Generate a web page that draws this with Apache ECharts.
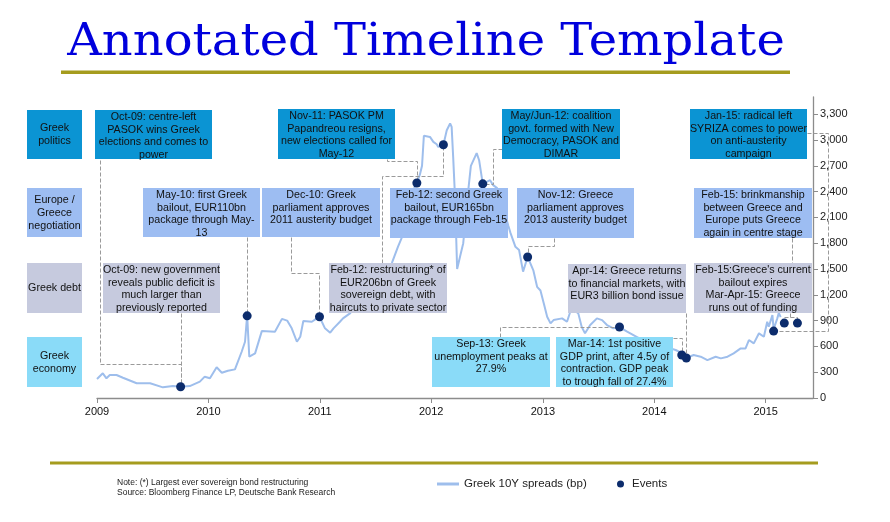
<!DOCTYPE html>
<html><head><meta charset="utf-8">
<script src="https://cdn.jsdelivr.net/npm/echarts@6/dist/echarts.min.js"></script>
<style>html,body{margin:0;padding:0;background:#fff}#c{width:890px;height:522px}</style>
</head><body><div id="c"></div>
<script>
// ---------- DATA ----------
const spreadDates = ['2009-01-01','2009-01-20','2009-02-01','2009-02-12','2009-03-06','2009-03-27','2009-05-11','2009-06-24','2009-08-05','2009-09-07','2009-10-02','2009-11-01','2009-12-04','2009-12-20',
'2010-01-06','2010-01-28','2010-02-14','2010-03-06','2010-03-29','2010-04-20','2010-05-01','2010-05-08','2010-05-15','2010-06-03','2010-06-25','2010-08-07','2010-08-30','2010-09-16','2010-10-01','2010-10-18','2010-10-29','2010-11-08','2010-12-06','2010-12-22','2010-12-31',
'2011-01-18','2011-02-04','2011-02-15','2011-03-08','2011-03-18','2011-04-11','2011-05-10','2011-06-15','2011-07-25','2011-08-25','2011-09-14','2011-09-26','2011-10-15','2011-11-01','2011-11-09','2011-11-15','2011-11-25','2011-12-02','2011-12-08','2011-12-28',
'2012-01-08','2012-01-19','2012-01-24','2012-02-10','2012-02-21','2012-03-03','2012-03-08','2012-03-13','2012-03-19','2012-03-26','2012-04-05','2012-04-15','2012-05-01','2012-05-10','2012-05-29','2012-06-06','2012-06-18','2012-06-24','2012-07-12','2012-07-22','2012-08-04','2012-08-25','2012-09-10','2012-09-17','2012-10-03','2012-10-15','2012-10-28','2012-11-12','2012-12-01','2012-12-13','2012-12-24',
'2013-01-04','2013-01-15','2013-01-26','2013-02-05','2013-03-05','2013-03-21','2013-04-05','2013-04-27','2013-05-08','2013-05-19','2013-06-05','2013-06-27','2013-07-14','2013-07-30','2013-08-20','2013-09-09','2013-10-04','2013-11-10','2013-12-15',
'2014-01-20','2014-02-20','2014-03-12','2014-03-23','2014-04-01','2014-04-16','2014-05-10','2014-06-02','2014-06-24','2014-07-21','2014-08-07','2014-08-29','2014-09-18','2014-10-11','2014-10-27','2014-11-07','2014-11-23','2014-12-10','2014-12-26',
'2015-01-06','2015-01-11','2015-01-23','2015-01-27','2015-02-08','2015-02-13','2015-02-19'];
const spreadValues = [221,287,229,267,267,236,171,171,124,139,131,139,190,248,
229,357,294,317,333,538,654,964,480,519,778,770,920,900,810,654,712,895,887,926,945,
810,759,810,887,926,987,1250,1500,1300,1569,1758,1860,2150,2350,2475,2500,2600,2700,3050,3036,
2978,2950,2920,2945,3114,3192,3153,2804,2339,1500,1650,1800,2400,2700,2847,2765,2490,2498,2533,2475,2440,2200,2000,1917,1758,1720,1470,1640,1480,1293,1250,
1100,945,868,906,926,887,1050,984,829,752,848,926,906,848,810,825,771,700,650,
620,580,558,538,500,465,500,480,441,480,461,480,519,577,577,674,635,752,712,
887,829,964,800,926,990,940];

const eventDates  = ['2009-10-02','2010-05-08','2010-12-31','2011-11-15','2012-02-10','2012-06-18','2012-11-12','2013-09-09','2014-04-01','2014-04-16','2015-01-27','2015-03-03','2015-04-15'];
const eventValues = [131,955,945,2500,2945,2490,1640,825,500,465,778,871,871];

const yTickValues = [0,300,600,900,1200,1500,1800,2100,2400,2700,3000,3300];
const yearTicks = ['2009','2010','2011','2012','2013','2014','2015'];

// ---------- STYLE / LAYOUT ----------
const C_POL = '#0B94D3', C_EUR = '#9DBDF2', C_DEBT = '#C6CADE', C_ECO = '#8ADBF8';
const FONT = '"Liberation Sans", Arial, sans-serif';

const categoryBoxes = [
  {x:27, y:110, w:55, h:49, c:C_POL,  t:'Greek\npolitics'},
  {x:27, y:188, w:55, h:49, c:C_EUR,  t:'Europe /\nGreece\nnegotiation'},
  {x:27, y:263, w:55, h:50, c:C_DEBT, t:'Greek debt'},
  {x:27, y:337, w:55, h:50, c:C_ECO,  t:'Greek\neconomy'}
];
const noteBoxes = [
  {x:95,  y:110, w:117, h:49, c:C_POL, t:'Oct-09: centre-left\nPASOK wins Greek\nelections and comes to\npower'},
  {x:278, y:109, w:117, h:50, c:C_POL, t:'Nov-11: PASOK PM\nPapandreou resigns,\nnew elections called for\nMay-12'},
  {x:502, y:109, w:118, h:50, c:C_POL, t:'May/Jun-12: coalition\ngovt. formed with New\nDemocracy, PASOK and\nDIMAR'},
  {x:690, y:109, w:117, h:50, c:C_POL, t:'Jan-15: radical left\nSYRIZA comes to power\non anti-austerity\ncampaign'},
  {x:143, y:188, w:117, h:49, c:C_EUR, t:'May-10: first Greek\nbailout, EUR110bn\npackage through May-\n13'},
  {x:262, y:188, w:118, h:49, c:C_EUR, t:'Dec-10: Greek\nparliament approves\n2011 austerity budget'},
  {x:390, y:188, w:118, h:50, c:C_EUR, t:'Feb-12: second Greek\nbailout, EUR165bn\npackage through Feb-15'},
  {x:517, y:188, w:117, h:50, c:C_EUR, t:'Nov-12: Greece\nparliament approves\n2013 austerity budget'},
  {x:694, y:188, w:118, h:50, c:C_EUR, t:'Feb-15: brinkmanship\nbetween Greece and\nEurope puts Greece\nagain in centre stage'},
  {x:103, y:263, w:117, h:50, c:C_DEBT, t:'Oct-09: new government\nreveals public deficit is\nmuch larger than\npreviously reported'},
  {x:329, y:263, w:118, h:50, c:C_DEBT, t:'Feb-12: restructuring* of\nEUR206bn of Greek\nsovereign debt, with\nhaircuts to private sector'},
  {x:568, y:264, w:118, h:49, c:C_DEBT, t:'Apr-14: Greece returns\nto financial markets, with\nEUR3 billion bond issue'},
  {x:694, y:263, w:118, h:50, c:C_DEBT, t:'Feb-15:Greece\'s current\nbailout expires\nMar-Apr-15: Greece\nruns out of funding'},
  {x:432, y:337, w:118, h:50, c:C_ECO, t:'Sep-13: Greek\nunemployment peaks at\n27.9%'},
  {x:556, y:337, w:117, h:50, c:C_ECO, t:'Mar-14: 1st positive\nGDP print, after 4.5y of\ncontraction. GDP peak\nto trough fall of 27.4%'}
];
// connector routes: start point + steps; 'D' = this connector's event dot, 'D12' = dot 12
const connectors = [
  {dot:0, start:[100,160], steps:[['v',364],['h','D'],['v','D']]},
  {dot:0, start:['D',313], steps:[['v','D']]},
  {dot:1, start:['D',237], steps:[['v','D']]},
  {dot:2, start:[291,237], steps:[['v',273],['h','D'],['v','D']]},
  {dot:3, start:[387,159], steps:[['v',161],['h','D'],['v','D']]},
  {dot:4, start:[382,263], steps:[['v',176],['h','D'],['v','D']]},
  {dot:5, start:[502,149], steps:[['h',493],['v','D'],['h','D']]},
  {dot:6, start:[554,238], steps:[['v',246],['h','D'],['v','D']]},
  {dot:7, start:[500,337], steps:[['v',327],['h','D'],['v','D']]},
  {dot:8, start:[673,338], steps:[['h','D'],['v','D']]},
  {dot:9, start:['D',313], steps:[['v','D']]},
  {dot:10, start:[807,133], steps:[['h',828],['v','D'],['h','D']]},
  {dot:null, start:[792,238], steps:[['v',263]]},
  {dot:11, start:['D','D'], steps:[['v',317],['h','D12'],['v','D12']]},
  {dot:null, start:[790,313], steps:[['v',317]]}
];

function ts(s){ const p = s.split('-').map(Number); return new Date(p[0], p[1]-1, p[2] || 1).getTime(); }

const chart = echarts.init(document.getElementById('c'), null, {renderer:'canvas'});
const YEAR = 365 * 24 * 3600 * 1000;

const option = {
  animation: false,
  backgroundColor: '#fff',
  textStyle: {fontFamily: FONT},
  grid: {left: 97, right: 77, top: 97, bottom: 124, containLabel: false},
  xAxis: {
    type: 'time',
    min: ts(yearTicks[0] + '-01-01'), max: ts('2015-06-05'),
    minInterval: YEAR, maxInterval: YEAR + 24 * 3600 * 1000,
    splitLine: {show: false},
    axisLine: {lineStyle: {color: '#8c8c8c', width: 1.3}},
    axisTick: {show: true, length: 5, lineStyle: {color: '#8c8c8c'}},
    axisLabel: {color: '#111', fontSize: 11, fontFamily: FONT, margin: 8, showMaxLabel: false,
      formatter: v => { const d = new Date(v); return (d.getMonth() === 0 && d.getDate() === 1) ? String(d.getFullYear()) : ''; }}
  },
  yAxis: {
    type: 'value', position: 'right', min: 0, max: 3500, interval: 300,
    splitLine: {show: false},
    axisLine: {show: true, lineStyle: {color: '#8c8c8c', width: 1.3}},
    axisTick: {show: true, length: 5, lineStyle: {color: '#8c8c8c'}, customValues: yTickValues},
    axisLabel: {color: '#222', fontSize: 11, fontFamily: FONT, margin: 7, customValues: yTickValues,
      formatter: v => v.toLocaleString('en-US')}
  },
  legend: [
    {data: [{name: 'Greek 10Y spreads (bp)', icon: 'rect'}], left: 432, top: 473, itemWidth: 22, itemHeight: 3, itemGap: 4,
      textStyle: {fontSize: 11.5, color: '#222', fontFamily: FONT}},
    {data: [{name: 'Events', icon: 'circle'}], left: 612, top: 473, itemWidth: 7, itemHeight: 7,
      textStyle: {fontSize: 11.5, color: '#222', fontFamily: FONT, padding: [0,0,0,3]}}
  ],
  series: [
    {name: 'Greek 10Y spreads (bp)', type: 'line', z: 2, symbol: 'none', showSymbol: false,
      lineStyle: {color: '#9EBEEC', width: 2}, itemStyle: {color: '#9EBEEC'},
      data: spreadDates.map((d, i) => [ts(d), spreadValues[i]])},
    {name: 'Events', type: 'scatter', z: 8, symbolSize: 9,
      itemStyle: {color: '#0C2C6C', opacity: 1},
      data: eventDates.map((d, i) => [ts(d), eventValues[i]])}
  ]
};
chart.setOption(option);

const dotPx = eventDates.map((d, i) => chart.convertToPixel({seriesIndex: 1}, [ts(d), eventValues[i]]));

function res(val, axis, spec) {
  if (typeof val === 'number') return val;
  const idx = val === 'D' ? spec.dot : +val.slice(1);
  return dotPx[idx][axis];
}

const graphics = [];
graphics.push({type: 'text', z: 20, x: 426, y: 44, scaleX: 1.09, style: {text: 'Annotated Timeline Template', x: 0, y: 0,
  align: 'center', verticalAlign: 'middle', font: '44px "DejaVu Serif", serif', fill: '#0000DD'}});
graphics.push({type: 'rect', z: 20, shape: {x: 61, y: 70.5, width: 729, height: 3.5}, style: {fill: '#A59C1E'}});
graphics.push({type: 'rect', z: 20, shape: {x: 50, y: 461.5, width: 768, height: 3}, style: {fill: '#A59C1E'}});
graphics.push({type: 'text', z: 20, style: {text: 'Note: (*) Largest ever sovereign bond restructuring\nSource: Bloomberg Finance LP, Deutsche Bank Research',
  x: 117, y: 478, align: 'left', verticalAlign: 'top', lineHeight: 10, font: '8.5px "Liberation Sans Narrow", "Liberation Sans", sans-serif', fill: '#222'}});

connectors.forEach(spec => {
  let cx = res(spec.start[0], 0, spec), cy = res(spec.start[1], 1, spec);
  const pts = [[cx, cy]];
  spec.steps.forEach(([dir, val]) => {
    if (dir === 'h') cx = res(val, 0, spec); else cy = res(val, 1, spec);
    pts.push([cx, cy]);
  });
  graphics.push({type: 'polyline', z: 5, shape: {points: pts.map(p => [Math.round(p[0]) + 0.5, Math.round(p[1]) + 0.5])},
    style: {stroke: '#9a9a9a', lineWidth: 1, lineDash: [4, 2], fill: null}});
});

categoryBoxes.forEach(b => {
  graphics.push({type: 'rect', z: 10, shape: {x: b.x, y: b.y, width: b.w, height: b.h}, style: {fill: b.c}});
  graphics.push({type: 'text', z: 11, style: {text: b.t, x: b.x + b.w / 2, y: b.y + b.h / 2 + 0.5, align: 'center', verticalAlign: 'middle',
    lineHeight: 13, font: '10.7px ' + FONT, fill: '#111'}});
});
noteBoxes.forEach(b => {
  graphics.push({type: 'rect', z: 10, shape: {x: b.x, y: b.y, width: b.w, height: b.h}, style: {fill: b.c}});
  graphics.push({type: 'text', z: 11, style: {text: b.t, x: b.x + b.w / 2, y: b.y + 0.5, align: 'center', verticalAlign: 'top',
    lineHeight: 12.8, font: '10.7px ' + FONT, fill: '#111'}});
});

chart.setOption({graphic: graphics});
</script></body></html>
